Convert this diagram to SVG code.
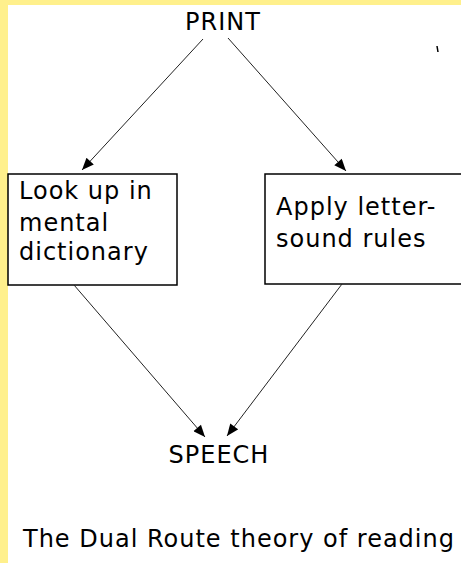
<svg xmlns="http://www.w3.org/2000/svg" width="461" height="563" viewBox="0 0 461 563">
<style>
.t{font-family:"DejaVu Sans",sans-serif;font-size:24px;fill:#000;letter-spacing:1px}
.box{fill:#fff;stroke:#000;stroke-width:1.5}
.c{stroke:#222;stroke-width:1;fill:none;marker-end:url(#ah)}
</style>
<defs>
<marker id="ah" viewBox="0 0 12 10" refX="12" refY="5" markerWidth="13" markerHeight="10" markerUnits="userSpaceOnUse" orient="auto">
<path d="M0,0 L12,5 L0,10 z" fill="#000"/>
</marker>
</defs>
<rect x="0" y="0" width="461" height="563" fill="#fff"/>
<rect x="0" y="0" width="461" height="5" fill="#FFF08C"/>
<rect x="0" y="0" width="8" height="563" fill="#FFF08C"/>
<g id="print"><text class="t" x="223" y="30" text-anchor="middle">PRINT</text></g>
<g id="lookup">
<rect class="box" x="8" y="174" width="169" height="111"/>
<text class="t" x="19" y="199">Look up in</text>
<text class="t" x="19" y="231">mental</text>
<text class="t" x="19" y="260">dictionary</text>
</g>
<g id="apply">
<rect class="box" x="265" y="174" width="210" height="110"/>
<text class="t" x="276" y="215">Apply letter-</text>
<text class="t" x="276" y="247">sound rules</text>
</g>
<g id="speech"><text class="t" x="219" y="463" text-anchor="middle">SPEECH</text></g>
<g id="title"><text class="t" x="23" y="547">The Dual Route theory of reading</text></g>
<g id="connectors">
<line class="c" x1="203" y1="39" x2="82" y2="170"/>
<line class="c" x1="228" y1="38" x2="346" y2="171"/>
<line class="c" x1="74" y1="285" x2="205" y2="437"/>
<line class="c" x1="342" y1="284" x2="227" y2="436"/>
</g>
<line x1="437" y1="46" x2="438" y2="52" stroke="#000" stroke-width="1.5"/>
</svg>
